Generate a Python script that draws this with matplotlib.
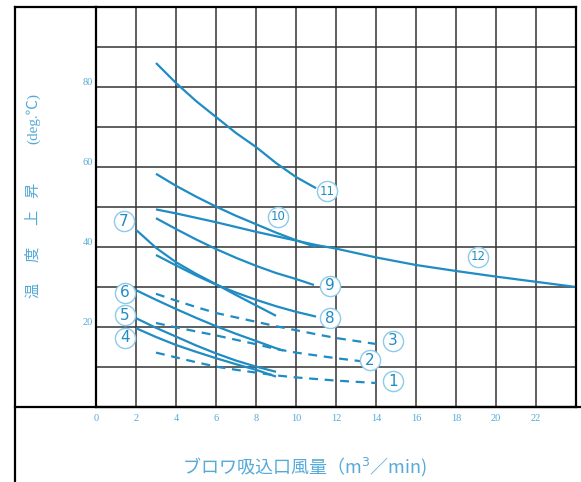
import matplotlib.pyplot as plt
from matplotlib.lines import Line2D

plt.rcParams['font.family'] = ['Noto Sans CJK JP', 'DejaVu Sans']

# 温度上昇カーブ (風量 m3/min, 温度上昇 deg.C)
x1 = [3, 4, 5, 6, 7, 8, 9, 10, 11, 12, 13, 14]
y1 = [13.6, 12.4, 11.2, 10.1, 9.3, 8.6, 7.9, 7.4, 7.0, 6.6, 6.3, 6.0]
x2 = [3, 4, 5, 6, 7, 8, 9, 10, 11, 12, 13, 13.3]
y2 = [21.0, 19.9, 18.9, 17.9, 16.8, 15.7, 14.5, 13.6, 12.9, 12.2, 11.6, 11.4]
x3 = [3, 4, 5, 6, 7, 8, 9, 10, 11, 12, 13, 14]
y3 = [28.3, 26.6, 25.0, 23.5, 22.4, 21.3, 20.2, 19.2, 18.2, 17.25, 16.5, 15.75]
x4 = [2, 3, 4, 5, 6, 7, 8, 9]
y4 = [19.7, 17.5, 15.5, 13.8, 12.2, 10.7, 9.3, 7.6]
x5 = [2, 3, 4, 5, 6, 7, 8, 9]
y5 = [22.2, 19.8, 17.6, 15.4, 13.4, 11.6, 10.1, 8.8]
x6 = [2, 3, 4, 5, 6, 7, 8, 9, 9.35]
y6 = [29.2, 26.8, 24.5, 22.3, 20.2, 18.3, 16.5, 14.7, 14.1]
x7 = [2, 3, 4, 5, 6, 7, 8, 9]
y7 = [44.3, 39.8, 36.2, 33.3, 30.7, 28.0, 25.4, 22.8]
x8 = [3, 4, 5, 6, 7, 8, 9, 10, 11]
y8 = [38.0, 35.4, 32.9, 30.6, 28.6, 26.8, 25.2, 23.8, 22.6]
x9 = [3, 4, 5, 6, 7, 8, 9, 10, 10.9]
y9 = [47.2, 44.5, 41.9, 39.5, 37.3, 35.3, 33.5, 32.0, 30.5]
x10 = [3, 4, 5, 6, 7, 8, 9, 10, 11]
y10 = [58.3, 55.3, 52.6, 50.1, 47.8, 45.7, 43.6, 41.7, 40.0]
x11 = [3, 4, 5, 6, 7, 8, 9, 10, 11]
y11 = [86.0, 81.0, 76.5, 72.5, 68.5, 65.0, 61.0, 57.5, 54.7]
x12 = [3, 4, 5, 6, 7, 8, 9, 10, 11, 12, 14, 16, 18, 20, 22, 24]
y12 = [49.4, 48.4, 47.3, 46.2, 45.0, 43.8, 42.7, 41.6, 40.5, 39.6, 37.4, 35.5,
       34.0, 32.6, 31.3, 30.0]

curves = [(x1, y1, True), (x2, y2, True), (x3, y3, True), (x4, y4, False),
          (x5, y5, False), (x6, y6, False), (x7, y7, False), (x8, y8, False),
          (x9, y9, False), (x10, y10, False), (x11, y11, False), (x12, y12, False)]

# 番号ラベルの位置
label_nums = ['1', '2', '3', '4', '5', '6', '7', '8', '9', '10', '11', '12']
label_x = [14.85, 13.7, 14.85, 1.45, 1.45, 1.45, 1.4, 11.7, 11.7, 9.1, 11.55, 19.1]
label_y = [6.4, 11.65, 16.6, 17.3, 23.0, 28.6, 46.5, 22.2, 30.3, 47.6, 53.9, 37.5]

xticks = list(range(0, 26, 2))
xtick_labels = [str(v) for v in range(0, 24, 2)] + ['']
yticks = list(range(0, 101, 10))
ytick_labels = ['', '', '20', '', '40', '', '60', '', '80', '', '']

line_c = '#1f8cc4'
text_c = '#55aad8'
circ_c = '#8ccbea'

W, H = 581, 482
fig = plt.figure(figsize=(W / 100, H / 100), dpi=100)
ax = fig.add_axes([96 / W, 75 / H, 480 / W, 400 / H])

for xs, ys, dashed in curves:
    ax.plot(xs, ys, color=line_c, lw=1.6,
            linestyle=(0, (4, 3)) if dashed else '-', solid_capstyle='butt')

for n, lx, ly in zip(label_nums, label_x, label_y):
    ax.plot(lx, ly, 'o', ms=14.5, mfc='white', mec=circ_c, mew=1.0, zorder=4)
    ax.text(lx, ly, n, ha='center', va='center', color=line_c,
            fontsize=11 if len(n) == 1 else 8.5, family='DejaVu Sans',
            zorder=5)

ax.set_xlim(0, 24)
ax.set_ylim(0, 100)
ax.set_xticks(xticks)
ax.set_xticklabels(xtick_labels)
ax.set_yticks(yticks)
ax.set_yticklabels(ytick_labels)
ax.tick_params(length=0, colors=text_c, labelsize=7.5, pad=5)
ax.tick_params(axis='y', pad=2)
for lab in ax.get_xticklabels() + ax.get_yticklabels():
    lab.set_family('Liberation Serif')
for lab in ax.get_yticklabels():
    lab.set_va('bottom')
ax.grid(True, color='#333333', lw=1.1)
ax.set_axisbelow(True)
for s in ax.spines.values():
    s.set_color('black')
    s.set_linewidth(1.6)

# 外枠
fl = 15 / W
ftop = 475 / H
fig.add_artist(Line2D([fl, fl], [0, ftop], color='black', lw=1.6))
fig.add_artist(Line2D([fl, 96 / W], [ftop, ftop], color='black', lw=1.6))
fig.add_artist(Line2D([fl, 1.0], [75 / H, 75 / H], color='black', lw=1.6))

# 縦軸ラベル
for ch, py in [('温', 290), ('度', 254), ('上', 217), ('昇', 190)]:
    fig.text(33 / W, 1 - py / H, ch, rotation=90, ha='center', va='center',
             color=text_c, fontsize=11)
fig.text(33 / W, 1 - 118 / H, '(deg.℃)', rotation=90, ha='center',
         va='center', color=text_c, fontsize=11,
         family=['Liberation Serif', 'Noto Sans CJK JP', 'DejaVu Sans'])

# 横軸ラベル
fig.text(305 / W, 1 - 467 / H, 'ブロワ吸込口風量（m$^3$／min)', ha='center',
         va='center', color=text_c, fontsize=13)

fig.savefig('out.png', dpi=100)
